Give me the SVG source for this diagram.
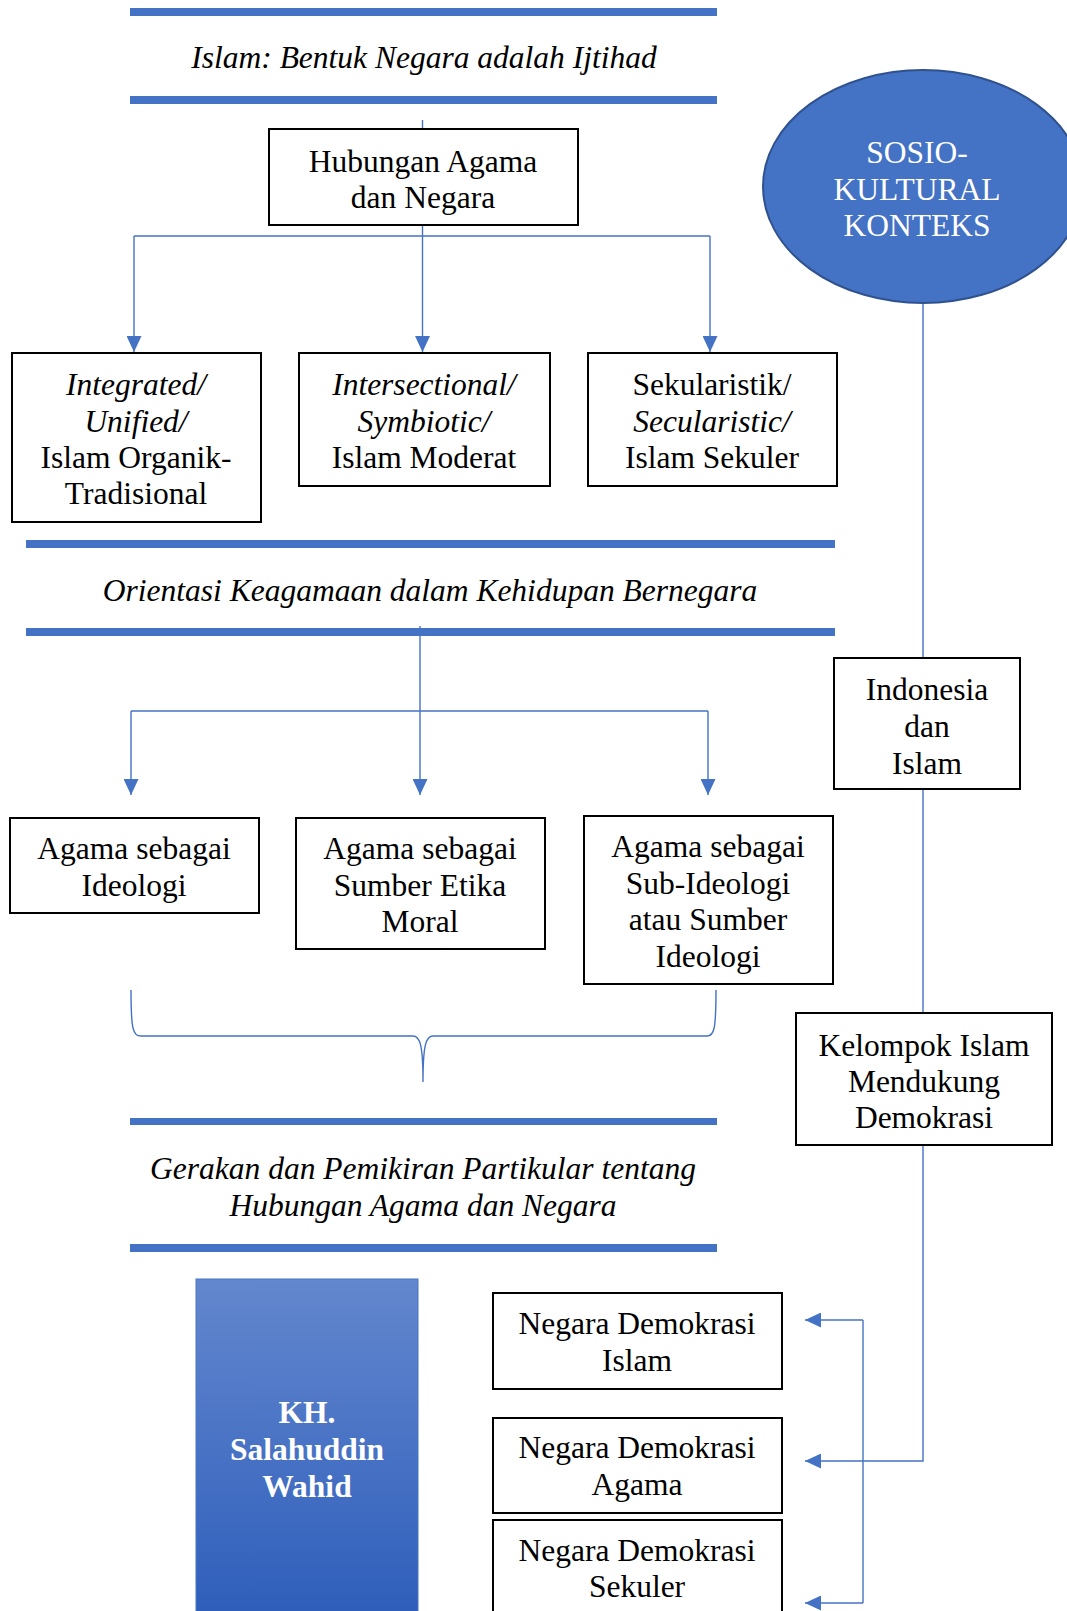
<svg xmlns="http://www.w3.org/2000/svg" width="1067" height="1611" viewBox="0 0 1067 1611">
<style>
text{font-family:"Liberation Serif","Times New Roman",serif;font-size:31.5px;fill:#000;text-anchor:middle}
.it{font-style:italic}
.w{fill:#fff}
.b{font-weight:bold}
.box{fill:#fff;stroke:#000;stroke-width:2}
.bar{fill:#4472C4}
.con{fill:none;stroke:#4472C4;stroke-width:1.4}
</style>
<defs>
<marker id="ah" viewBox="0 0 16 15" refX="16" refY="7.5" markerUnits="userSpaceOnUse" markerWidth="16" markerHeight="15" orient="auto">
<path d="M0,0 L16,7.5 L0,15 z" fill="#4472C4"/>
</marker>
<linearGradient id="kg" x1="0" y1="0" x2="0" y2="1">
<stop offset="0" stop-color="#6387CE"/>
<stop offset="1" stop-color="#2D5DBA"/>
</linearGradient>
</defs>

<g id="connectors">
<path class="con" d="M422.5,120 V129"/>
<path class="con" d="M134,236 H710"/>
<path class="con" d="M422.5,225 V352" marker-end="url(#ah)"/>
<path class="con" d="M134,236 V352" marker-end="url(#ah)"/>
<path class="con" d="M710,236 V352" marker-end="url(#ah)"/>
<path class="con" d="M131,711 H708"/>
<path class="con" d="M420,626 V795" marker-end="url(#ah)"/>
<path class="con" d="M131,711 V795" marker-end="url(#ah)"/>
<path class="con" d="M708,711 V795" marker-end="url(#ah)"/>
<path class="con" d="M131,990 C131,1030 133,1036 141,1036 L413,1036 C420,1036 423,1045 423,1082 C423,1045 426,1036 433,1036 L707,1036 C714,1036 716,1030 716,990"/>
<path class="con" d="M923,303 V658"/>
<path class="con" d="M923,789 V1013"/>
<path class="con" d="M923,1145 V1461 H805" marker-end="url(#ah)"/>
<path class="con" d="M863,1320 V1603"/>
<path class="con" d="M863,1320 H805" marker-end="url(#ah)"/>
<path class="con" d="M863,1603 H805" marker-end="url(#ah)"/>
</g>

<g id="title1">
<rect class="bar" x="130" y="8" width="587" height="8"/>
<text class="it" x="424" y="68">Islam: Bentuk Negara adalah Ijtihad</text>
<rect class="bar" x="130" y="96" width="587" height="8"/>
</g>

<g id="hubungan">
<rect class="box" x="269" y="129" width="309" height="96"/>
<text x="423" y="172">Hubungan Agama</text>
<text x="423" y="208">dan Negara</text>
</g>

<g id="sosio">
<ellipse cx="923" cy="186.5" rx="160" ry="116.5" fill="#4472C4" stroke="#2F528F" stroke-width="2"/>
<text class="w" x="917" y="163">SOSIO-</text>
<text class="w" x="917" y="200">KULTURAL</text>
<text class="w" x="917" y="236">KONTEKS</text>
</g>

<g id="integrated">
<rect class="box" x="12" y="353" width="249" height="169"/>
<text class="it" x="136" y="395">Integrated/</text>
<text class="it" x="136" y="432">Unified/</text>
<text x="136" y="468">Islam Organik-</text>
<text x="136" y="504">Tradisional</text>
</g>

<g id="intersectional">
<rect class="box" x="299" y="353" width="251" height="133"/>
<text class="it" x="424" y="395">Intersectional/</text>
<text class="it" x="424" y="432">Symbiotic/</text>
<text x="424" y="468">Islam Moderat</text>
</g>

<g id="sekularistik">
<rect class="box" x="588" y="353" width="249" height="133"/>
<text x="712" y="395">Sekularistik/</text>
<text class="it" x="712" y="432">Secularistic/</text>
<text x="712" y="468">Islam Sekuler</text>
</g>

<g id="title2">
<rect class="bar" x="26" y="540" width="809" height="8"/>
<text class="it" x="430" y="601">Orientasi Keagamaan dalam Kehidupan Bernegara</text>
<rect class="bar" x="26" y="628" width="809" height="8"/>
</g>

<g id="indonesia">
<rect class="box" x="834" y="658" width="186" height="131"/>
<text x="927" y="700">Indonesia</text>
<text x="927" y="737">dan</text>
<text x="927" y="774">Islam</text>
</g>

<g id="ideologi">
<rect class="box" x="10" y="818" width="249" height="95"/>
<text x="134" y="859">Agama sebagai</text>
<text x="134" y="896">Ideologi</text>
</g>

<g id="etika">
<rect class="box" x="296" y="818" width="249" height="131"/>
<text x="420" y="859">Agama sebagai</text>
<text x="420" y="896">Sumber Etika</text>
<text x="420" y="932">Moral</text>
</g>

<g id="subideologi">
<rect class="box" x="584" y="816" width="249" height="168"/>
<text x="708" y="857">Agama sebagai</text>
<text x="708" y="894">Sub-Ideologi</text>
<text x="708" y="930">atau Sumber</text>
<text x="708" y="967">Ideologi</text>
</g>

<g id="kelompok">
<rect class="box" x="796" y="1013" width="256" height="132"/>
<text x="924" y="1056">Kelompok Islam</text>
<text x="924" y="1092">Mendukung</text>
<text x="924" y="1128">Demokrasi</text>
</g>

<g id="title3">
<rect class="bar" x="130" y="1118" width="587" height="7"/>
<text class="it" x="423" y="1179">Gerakan dan Pemikiran Partikular tentang</text>
<text class="it" x="423" y="1216">Hubungan Agama dan Negara</text>
<rect class="bar" x="130" y="1244" width="587" height="8"/>
</g>

<g id="kh">
<rect x="196" y="1279" width="222" height="345" fill="url(#kg)" stroke="#4A74C4" stroke-width="1"/>
<text class="w b" x="307" y="1423">KH.</text>
<text class="w b" x="307" y="1460">Salahuddin</text>
<text class="w b" x="307" y="1497">Wahid</text>
</g>

<g id="ndislam">
<rect class="box" x="493" y="1293" width="289" height="96"/>
<text x="637" y="1334">Negara Demokrasi</text>
<text x="637" y="1371">Islam</text>
</g>

<g id="ndagama">
<rect class="box" x="493" y="1418" width="289" height="95"/>
<text x="637" y="1458">Negara Demokrasi</text>
<text x="637" y="1495">Agama</text>
</g>

<g id="ndsekuler">
<rect class="box" x="493" y="1520" width="289" height="100"/>
<text x="637" y="1561">Negara Demokrasi</text>
<text x="637" y="1597">Sekuler</text>
</g>
</svg>
